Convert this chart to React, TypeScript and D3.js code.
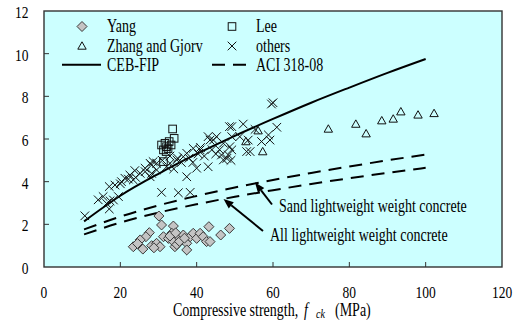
import React from "react";
import * as d3 from "d3";

// ---- data ----
const yang: [number, number][] = [
  [30.1, 2.39], [30.8, 1.97], [33.9, 1.92], [27.6, 1.61], [26.7, 1.42], [25.2, 1.27],
  [23.4, 0.95], [25.9, 0.84], [28.2, 1.0], [29.5, 1.11], [30.4, 0.95], [31.3, 1.42],
  [32.6, 1.34], [33.5, 1.58], [33.9, 1.19], [34.3, 0.95], [35.2, 1.42], [36.1, 1.27],
  [36.5, 1.5], [37.4, 1.11], [37.4, 0.8], [38.3, 1.42], [39.1, 1.58], [40.0, 1.34],
  [40.9, 1.58], [41.7, 1.42], [42.6, 1.19], [43.2, 1.89], [43.5, 1.19], [46.3, 1.5],
  [48.6, 1.81], [34.8, 1.05], [35.5, 1.2], [33.0, 1.45], [36.8, 1.35], [34.5, 1.6],
  [24.5, 1.1], [28.8, 0.9],
];
const lee: [number, number][] = [
  [33.7, 6.47], [34.1, 6.03], [30.8, 5.72], [31.7, 5.8], [32.1, 5.64], [32.8, 5.88],
  [33.3, 5.72], [31.3, 5.49], [32.0, 5.41], [31.3, 4.94], [32.5, 5.55],
];
const zhang: [number, number][] = [
  [52.9, 5.88], [56.1, 6.39], [57.3, 5.41], [74.5, 6.47], [81.7, 6.7], [84.4, 6.25],
  [88.5, 6.86], [91.5, 6.94], [93.5, 7.28], [98.0, 7.13], [102.2, 7.2],
];
const others: [number, number][] = [
  [10.7, 2.4], [14.2, 3.15], [16.4, 2.98], [17.3, 3.1], [17.1, 2.72], [17.1, 3.77], [18.2, 3.14],
  [18.6, 3.84], [19.5, 3.3], [20.3, 4.0], [21.2, 4.16], [22.1, 4.12], [22.5, 4.31],
  [23.4, 4.08], [23.8, 4.52], [25.2, 4.39], [26.5, 4.63], [26.5, 4.47], [27.8, 4.86],
  [27.8, 4.23], [28.2, 4.39], [28.2, 4.78], [28.6, 4.94], [29.5, 4.86], [29.5, 4.55],
  [30.8, 3.5], [32.1, 4.7], [33.0, 4.86], [34.8, 5.02], [35.2, 3.48], [36.5, 5.17],
  [37.4, 5.33], [37.4, 4.23], [38.3, 3.5], [39.1, 5.56], [40.0, 4.63], [40.4, 5.3],
  [40.9, 5.49], [42.0, 5.2], [43.0, 4.7], [43.0, 6.11], [43.5, 5.95], [44.4, 5.95],
  [45.2, 6.11], [46.5, 5.25], [47.0, 5.02], [47.9, 5.09], [48.3, 5.25], [48.6, 6.58],
  [48.7, 5.64], [49.2, 6.58], [49.2, 6.11], [49.2, 5.49], [49.0, 5.0], [51.3, 6.11],
  [52.2, 6.7], [53.1, 5.41], [53.5, 5.95], [54.0, 5.41], [55.3, 6.45], [57.0, 5.88],
  [58.8, 6.19], [59.2, 5.95], [59.6, 7.64], [60.0, 7.7], [61.0, 6.55], [31.0, 5.0],
  [33.0, 5.2], [34.0, 4.6], [35.0, 5.1], [36.0, 4.9], [38.0, 5.1], [39.0, 4.9],
  [41.0, 5.6], [44.0, 5.5], [46.0, 5.5], [47.0, 5.8], [45.0, 5.3], [24.0, 4.2],
  [20.0, 3.9], [15.5, 3.3],
];
const curveX = [10.5, 20, 30, 40, 50, 60, 70, 80, 90, 100];
const cebFip = [2.14, 3.34, 4.37, 5.3, 6.15, 6.94, 7.7, 8.41, 9.1, 9.75];
const aciSand = [1.76, 2.36, 2.89, 3.33, 3.73, 4.08, 4.41, 4.71, 5.0, 5.27];
const aciAll = [1.53, 2.08, 2.55, 2.94, 3.29, 3.6, 3.89, 4.16, 4.41, 4.65];
const xTicks = [0, 20, 40, 60, 80, 100, 120];
const yTicks = [0, 2, 4, 6, 8, 10, 12];

// ---- layout ----
const W = 515, H = 324;
const L = 44, R = 502, T = 11, B = 267;
const FONT = "'Liberation Serif', 'Times New Roman', serif";
const ST = 1.27;

const x = d3.scaleLinear().domain([0, 120]).range([L, R]);
const y = d3.scaleLinear().domain([0, 12]).range([B, T]);

function Txt({ x, y, size, anchor = "start", children }: any) {
  return (
    <text
      transform={`translate(${x},${y}) scale(1,${ST})`}
      fontSize={size}
      textAnchor={anchor}
      fontFamily={FONT}
      fill="#000"
    >
      {children}
    </text>
  );
}

const Diamond = ({ cx, cy }: any) => (
  <path d={`M${cx},${cy - 5}L${cx + 5},${cy}L${cx},${cy + 5}L${cx - 5},${cy}Z`} fill="#c4c4c4" stroke="#3a3a3a" strokeWidth={1} />
);
const Square = ({ cx, cy }: any) => (
  <rect x={cx - 3.8} y={cy - 3.8} width={7.6} height={7.6} fill="none" stroke="#111" strokeWidth={1} />
);
const Tri = ({ cx, cy }: any) => (
  <path d={`M${cx},${cy - 4.2}L${cx + 4.2},${cy + 3.2}L${cx - 4.2},${cy + 3.2}Z`} fill="none" stroke="#111" strokeWidth={1} />
);
const Cross = ({ cx, cy }: any) => (
  <path d={`M${cx - 4.3},${cy - 4.3}L${cx + 4.3},${cy + 4.3}M${cx - 4.3},${cy + 4.3}L${cx + 4.3},${cy - 4.3}`} stroke="#111" strokeWidth={1} fill="none" />
);

export default function App() {
  const line = (ys: number[]) =>
    d3.line<number>().x((_, i) => x(curveX[i])).y((v) => y(v)).curve(d3.curveMonotoneX)(ys) || "";

  const arrow = (x1: number, y1: number, x2: number, y2: number) => {
    const a = Math.atan2(y2 - y1, x2 - x1);
    const len = 10, wdt = 4;
    const bx = x2 - len * Math.cos(a), by = y2 - len * Math.sin(a);
    const px = -Math.sin(a) * wdt, py = Math.cos(a) * wdt;
    return (
      <g>
        <line x1={x1} y1={y1} x2={bx} y2={by} stroke="#000" strokeWidth={2} />
        <path d={`M${x2},${y2}L${bx + px},${by + py}L${bx - px},${by - py}Z`} fill="#000" />
      </g>
    );
  };

  return (
    <svg width={W} height={H} style={{ position: "absolute", left: 0, top: 0, background: "#fff" }}>
      <rect x={L} y={T} width={R - L} height={B - T} fill="#ccffff" />
      {xTicks.slice(1, -1).map((t) => (
        <line key={"xt" + t} x1={x(t)} x2={x(t)} y1={B} y2={B - 5} stroke="#333" strokeWidth={1} />
      ))}
      {yTicks.slice(1, -1).map((t) => (
        <line key={"yt" + t} x1={L} x2={L + 5} y1={y(t)} y2={y(t)} stroke="#333" strokeWidth={1} />
      ))}
      <path d={line(cebFip)} fill="none" stroke="#000" strokeWidth={2} />
      <path d={line(aciSand)} fill="none" stroke="#000" strokeWidth={2} strokeDasharray="13,8" />
      <path d={line(aciAll)} fill="none" stroke="#000" strokeWidth={2} strokeDasharray="13,8" />
      {others.map(([a, b], i) => <Cross key={"o" + i} cx={x(a)} cy={y(b)} />)}
      {lee.map(([a, b], i) => <Square key={"l" + i} cx={x(a)} cy={y(b)} />)}
      {zhang.map(([a, b], i) => <Tri key={"z" + i} cx={x(a)} cy={y(b)} />)}
      {yang.map(([a, b], i) => <Diamond key={"y" + i} cx={x(a)} cy={y(b)} />)}
      {arrow(272, 204.5, 255, 182.5)}
      {arrow(263, 231, 223.5, 199)}
      <Txt x={279} y={212.3} size={14}>Sand lightweight weight concrete</Txt>
      <Txt x={270} y={240.7} size={14}>All lightweight weight concrete</Txt>
      <Diamond cx={82} cy={26.5} />
      <Txt x={107} y={32.3} size={14}>Yang</Txt>
      <Square cx={232} cy={26.5} />
      <Txt x={256} y={32.3} size={14}>Lee</Txt>
      <Tri cx={82} cy={46} />
      <Txt x={107} y={51.5} size={14}>Zhang and Gjorv</Txt>
      <Cross cx={232} cy={46} />
      <Txt x={256} y={51.5} size={14}>others</Txt>
      <line x1={62} x2={101} y1={64.7} y2={64.7} stroke="#000" strokeWidth={2} />
      <Txt x={107} y={70.5} size={14}>CEB-FIP</Txt>
      <line x1={212} x2={250} y1={64.7} y2={64.7} stroke="#000" strokeWidth={2} strokeDasharray="13,8" />
      <Txt x={256} y={70.5} size={14}>ACI 318-08</Txt>
      <rect x={L} y={T} width={R - L} height={B - T} fill="none" stroke="#333" strokeWidth={1.4} />
      {yTicks.map((t) => (
        <Txt key={"yl" + t} x={28.5} y={y(t) + 7} size={13.5} anchor="end">{t}</Txt>
      ))}
      {xTicks.map((t) => (
        <Txt key={"xl" + t} x={x(t)} y={298} size={13.5} anchor="middle">{t}</Txt>
      ))}
      <text transform={`translate(173,316) scale(1,${ST})`} fontSize={14} fontFamily={FONT}>
        <tspan>Compressive strength, </tspan>
        <tspan x={131} fontStyle="italic">f</tspan>
        <tspan x={143} dy={1.5} fontSize={10} fontStyle="italic">ck</tspan>
        <tspan x={162} dy={-1.5}>(MPa)</tspan>
      </text>
    </svg>
  );
}
